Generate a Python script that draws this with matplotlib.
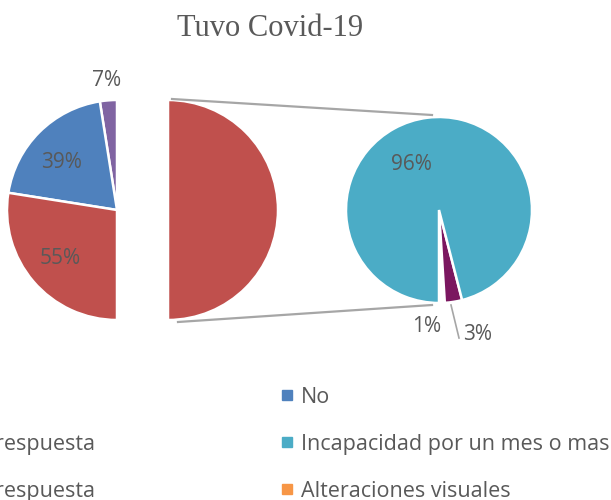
import matplotlib
matplotlib.use("Agg")
import matplotlib.pyplot as plt
from matplotlib.lines import Line2D

# pie principal (morado, azul, rojo, "otros" que se abre a la derecha)
main_sizes = [2.5, 20, 27.5, 50]
main_labels = ["7%", "39%", "55%", ""]
main_colors = ["#8064A2", "#4F81BD", "#C0504D", "#C0504D"]

# pie secundario
sub_sizes = [1, 3, 96]
sub_labels = ["1%", "3%", "96%"]
sub_colors = ["#FFFFFF", "#7B1760", "#4BACC6"]

legend_labels = ["Si", "Sin respuesta", "Sin respuesta",
                 "No", "Incapacidad por un mes o mas", "Alteraciones visuales"]
legend_colors = ["#C0504D", "#8064A2", "#7B1760",
                 "#4F81BD", "#4BACC6", "#F79646"]

W, H = 611, 500
fig = plt.figure(figsize=(W / 100, H / 100), dpi=100)
ax = fig.add_axes([0, 0, 1, 1])

r1 = 110
c1 = (117, H - 210)
w1, _ = ax.pie(main_sizes, colors=main_colors, startangle=90, counterclock=True,
               radius=r1, center=c1, explode=[0, 0, 0, 51],
               wedgeprops=dict(edgecolor="white", linewidth=1.8))

r2 = 93
c2 = (439, H - 210)
w2, _ = ax.pie(sub_sizes, colors=sub_colors, startangle=270, counterclock=True,
               radius=r2, center=c2,
               wedgeprops=dict(edgecolor="white", linewidth=1.8))

ax.set_xlim(0, W)
ax.set_ylim(0, H)
ax.set_aspect("equal")
ax.axis("off")

# lineas de conexion entre los dos pies
other = w1[3]
ox, oy = other.center
ax.plot([ox + 4, c2[0] - 7], [oy + r1 + 1, c2[1] + r2 + 2], color="#A6A6A6", lw=1.6)
ax.plot([ox + 10, c2[0] - 7], [oy - r1 - 2, c2[1] - r2 - 2], color="#A6A6A6", lw=1.6)

lab_col = "#595959"
fs = 15
font = "Open Sans"
pos1 = [(107, 80), (62, 163), (60, 259)]
for (x, y), t in zip(pos1, main_labels):
    ax.text(x, H - y, t, ha="center", va="center", fontsize=fs, color=lab_col, family=font)
pos2 = [(427, 327), (478, 335), (411, 164)]
for (x, y), t in zip(pos2, sub_labels):
    ax.text(x, H - y, t, ha="center", va="center", fontsize=fs, color=lab_col, family=font)
# guia del 3%
ax.plot([451, 459], [H - 305, H - 338], color="#A6A6A6", lw=1.2)

fig.text(270 / W, 1 - 29 / H, "Tuvo Covid-19", ha="center", va="center",
         fontsize=22, color=lab_col, family="Liberation Serif")

# leyenda (la columna izquierda queda cortada como en la imagen)
handles = [Line2D([], [], marker="s", linestyle="", color=c, markersize=6.5)
           for c in legend_colors]
fig.legend(handles, legend_labels, ncol=2, loc="upper right",
           bbox_to_anchor=(609 / W, 1 - 387 / H), frameon=False,
           borderpad=0, borderaxespad=0, handlelength=0.6, handletextpad=0.35,
           columnspacing=8.6, labelspacing=1.2,
           prop=dict(family=font, size=15.5), labelcolor=lab_col)

fig.savefig("out.png", dpi=100)
